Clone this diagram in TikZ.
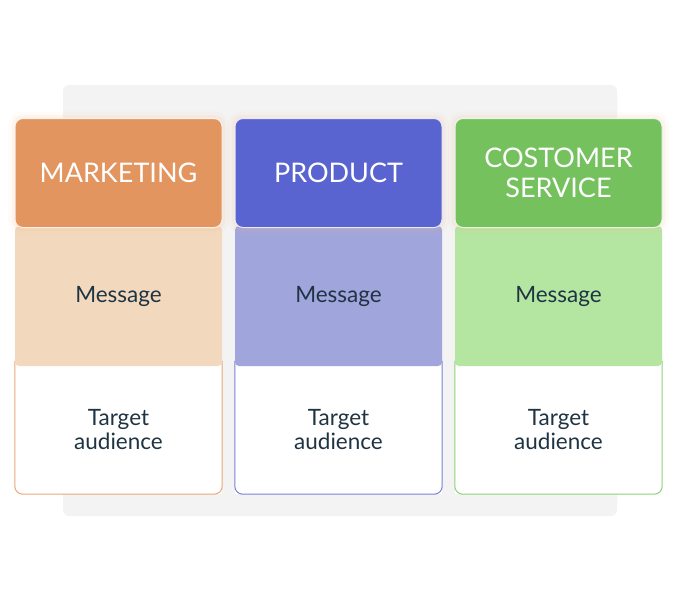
\documentclass[tikz,border=0pt]{standalone}
\usepackage{fontspec}
\setmainfont{Lato}
\usetikzlibrary{positioning}
\definecolor{orHead}{HTML}{E2955F}
\definecolor{orBand}{HTML}{F2D9BE}
\definecolor{orLine}{HTML}{E9A879}
\definecolor{blHead}{HTML}{5A64D0}
\definecolor{blBand}{HTML}{A0A5DC}
\definecolor{blLine}{HTML}{7B80DB}
\definecolor{grHead}{HTML}{74C15E}
\definecolor{grBand}{HTML}{B4E6A2}
\definecolor{grLine}{HTML}{8FD07A}
\definecolor{inkText}{HTML}{1F3443}
\definecolor{panel}{HTML}{F3F3F3}
\definecolor{halo}{HTML}{F4B98A}
\begin{document}
\begin{tikzpicture}[
  x=1pt, y=-1pt,
  head/.style={rounded corners=8pt, draw=white!85!#1, line width=1pt, fill=#1,
    preaction={draw=halo, line width=14pt, opacity=0.06},
    preaction={draw=halo, line width=7pt, opacity=0.10},
    minimum width=207pt, minimum height=109pt, align=center, text=white,
    font=\fontsize{27}{30}\selectfont},
  band/.style={rounded corners=4pt, fill=#1, minimum width=207pt, minimum height=140pt,
    align=center, text=inkText, font=\fontsize{22.5}{24}\selectfont},
  target/.style={minimum width=207pt, minimum height=129pt, align=center, fill=white,
    text=inkText, font=\fontsize{22.5}{24}\selectfont},
  rim/.style={draw=#1, line width=1pt, rounded corners=8pt}
]
\useasboundingbox (0,0) rectangle (679,600);
\fill[panel, rounded corners=6pt] (63,85) rectangle (617,516);

% marketing
\node[target] (tgt1) at (118.5,429.5) {Target\\audience};
\draw[rim=orLine] ([yshift=4pt]tgt1.north west) -- (tgt1.south west) -- (tgt1.south east) -- ([yshift=4pt]tgt1.north east);
\node[band=orBand] (msg1) at (118.5,296) {Message};
\node[head=orHead] (hd1) at (118.5,173) {MARKETING};

% product
\node[target] (tgt2) at (338.5,429.5) {Target\\audience};
\draw[rim=blLine] ([yshift=4pt]tgt2.north west) -- (tgt2.south west) -- (tgt2.south east) -- ([yshift=4pt]tgt2.north east);
\node[band=blBand] (msg2) at (338.5,296) {Message};
\node[head=blHead] (hd2) at (338.5,173) {PRODUCT};

% customer service
\node[target] (tgt3) at (558.5,429.5) {Target\\audience};
\draw[rim=grLine] ([yshift=4pt]tgt3.north west) -- (tgt3.south west) -- (tgt3.south east) -- ([yshift=4pt]tgt3.north east);
\node[band=grBand] (msg3) at (558.5,296) {Message};
\node[head=grHead] (hd3) at (558.5,173) {COSTOMER\\SERVICE};
\end{tikzpicture}
\end{document}
